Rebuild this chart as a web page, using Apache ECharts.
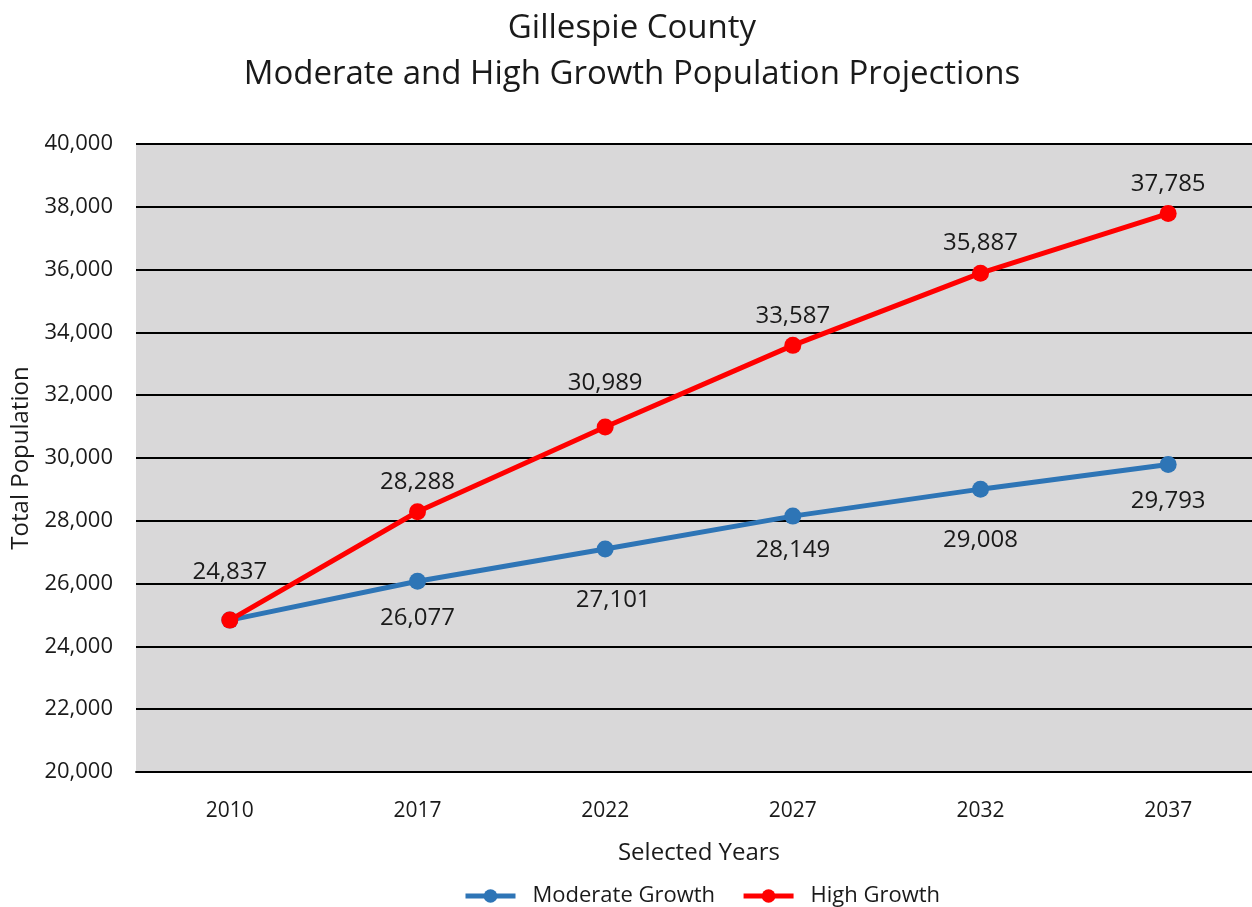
<!DOCTYPE html>
<html>
<head>
<meta charset="utf-8">
<script src="https://cdn.jsdelivr.net/npm/echarts@6/dist/echarts.min.js"></script>
<style>
  html, body { margin: 0; padding: 0; background: #ffffff; }
  #chart { width: 1252px; height: 907px; }
</style>
</head>
<body>
<div id="chart"></div>
<script>
// Population projections for Gillespie County
const years = ['2010', '2017', '2022', '2027', '2032', '2037'];
const moderateGrowth = [24837, 26077, 27101, 28149, 29008, 29793];
const highGrowth = [24837, 28288, 30989, 33587, 35887, 37785];
const yTicks = { min: 20000, max: 40000, interval: 2000 };

// Per-point label nudges [dx, dy] so labels clear the lines
const moderateNudge = [null, [0, 0], [8, 15], [0, -2], [0, 15], [0, 0]];
const highNudge = [[0, -18], [0, 0], [0, -14], [0, 0], [0, 0], [0, 0]];

const FONT = '"Open Sans", Lato, sans-serif';
const TEXT = '#1a1a1a';
const fmt = v => v.toLocaleString('en-US');

function buildPoints(values, nudges) {
  return values.map((v, i) => {
    const n = nudges[i];
    if (n === null) return { value: v, label: { show: false } };
    return { value: v, label: { offset: n } };
  });
}

const chart = echarts.init(document.getElementById('chart'), null, { renderer: 'canvas' });
chart.setOption({
  backgroundColor: '#ffffff',
  animation: false,
  title: {
    text: 'Gillespie County\nModerate and High Growth Population Projections',
    left: 627,
    textAlign: 'center',
    top: 1,
    textStyle: { fontFamily: FONT, fontSize: 33, fontWeight: 'normal', color: TEXT, lineHeight: 46 }
  },
  legend: {
    bottom: -5,
    left: 458,
    itemWidth: 50,
    itemHeight: 17,
    itemGap: 26,
    textStyle: { fontFamily: FONT, fontSize: 22, color: TEXT, padding: [0, 0, 0, 12] },
    data: [
      { name: 'Moderate Growth', lineStyle: { width: 5 } },
      { name: 'High Growth', lineStyle: { width: 5 } }
    ]
  },
  grid: {
    left: 136,
    top: 144,
    width: 1126,
    bottom: 135,
    outerBoundsMode: 'none',
    containLabel: false,
    show: true,
    backgroundColor: '#d9d8d9',
    borderWidth: 0
  },
  xAxis: {
    type: 'category',
    data: years,
    boundaryGap: true,
    name: 'Selected Years',
    nameLocation: 'middle',
    nameGap: 69,
    nameTextStyle: { fontFamily: FONT, fontSize: 24, color: TEXT },
    axisLine: { show: true, lineStyle: { color: '#000', width: 2 } },
    axisTick: { show: false },
    axisLabel: { fontFamily: FONT, fontSize: 21, color: TEXT, margin: 29 }
  },
  yAxis: {
    type: 'value',
    min: yTicks.min,
    max: yTicks.max,
    interval: yTicks.interval,
    name: 'Total Population',
    nameLocation: 'middle',
    nameGap: 97,
    nameRotate: 90,
    nameTextStyle: { fontFamily: FONT, fontSize: 24, color: TEXT },
    axisLine: { show: false },
    axisTick: { show: false },
    axisLabel: { fontFamily: FONT, fontSize: 22, color: TEXT, margin: 23, formatter: v => fmt(v) },
    splitLine: { show: true, lineStyle: { color: '#000', width: 2 } }
  },
  series: [
    {
      name: 'Moderate Growth',
      type: 'line',
      data: buildPoints(moderateGrowth, moderateNudge),
      color: '#2e75b6',
      lineStyle: { width: 5, color: '#2e75b6' },
      symbol: 'circle',
      symbolSize: 17,
      itemStyle: { color: '#2e75b6' },
      label: {
        show: true,
        position: 'bottom',
        distance: 16,
        fontFamily: FONT,
        fontSize: 24,
        color: TEXT,
        formatter: p => fmt(p.value)
      },
      z: 2
    },
    {
      name: 'High Growth',
      type: 'line',
      data: buildPoints(highGrowth, highNudge),
      color: '#ff0000',
      lineStyle: { width: 5, color: '#ff0000' },
      symbol: 'circle',
      symbolSize: 17,
      itemStyle: { color: '#ff0000' },
      label: {
        show: true,
        position: 'top',
        distance: 9,
        fontFamily: FONT,
        fontSize: 24,
        color: TEXT,
        formatter: p => fmt(p.value)
      },
      z: 3
    }
  ]
});
</script>
</body>
</html>
